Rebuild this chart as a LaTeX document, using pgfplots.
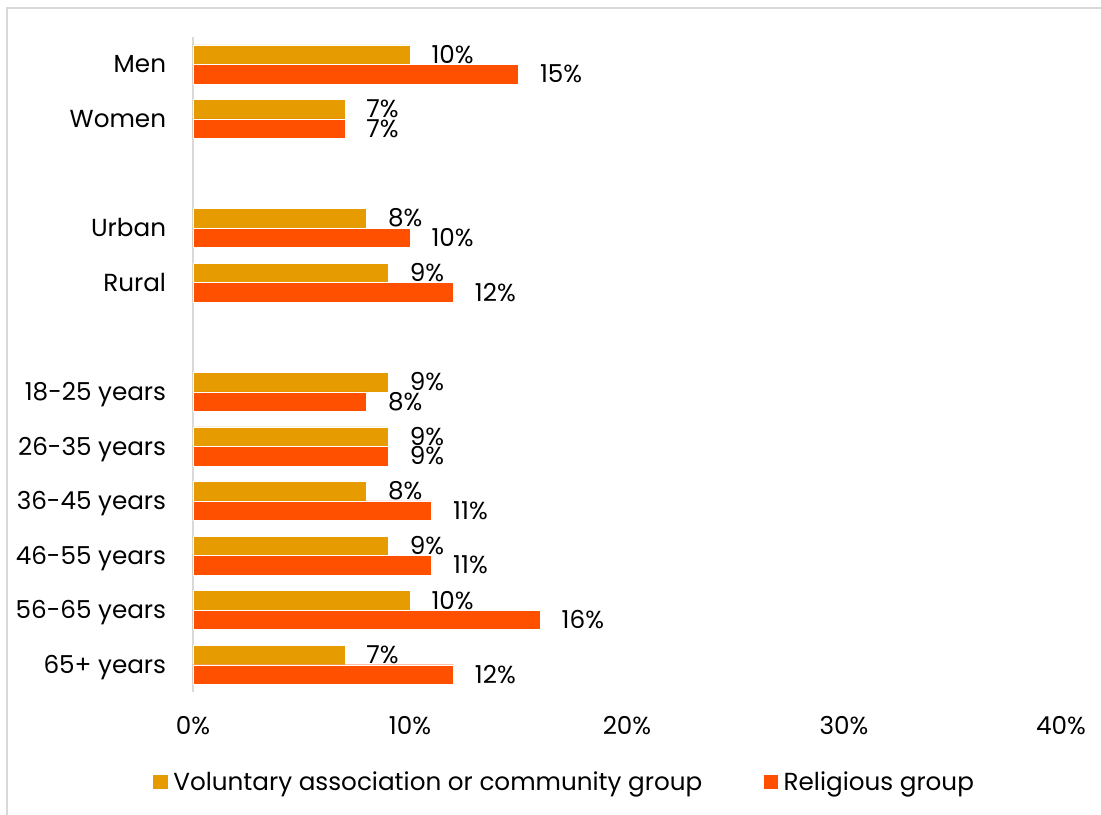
\documentclass[border=0pt]{standalone}
\usepackage{pgfplots}
\pgfplotsset{compat=1.18}
\usepackage{fontspec}
\setmainfont{Poppins}
\definecolor{volcol}{HTML}{E69C00}
\definecolor{relcol}{HTML}{FF5000}
\definecolor{frame}{HTML}{D9D9D9}
\begin{document}
\begin{tikzpicture}
% 1px = 0.75pt, page 1101x815 px
\path[use as bounding box] (0,0) rectangle (825.75pt,611.25pt);
\draw[frame, line width=1.5pt] (5.25pt,0) -- (5.25pt,605.6pt) -- (825.75pt,605.6pt);
\begin{axis}[
    at={(144.75pt,92.25pt)}, anchor=south west,
    scale only axis,
    width=651pt, height=491.25pt,
    xbar,
    bar width=14.6pt,
    xmin=0, xmax=40,
    ymin=-0.5, ymax=11.5,
    clip=false,
    font=\fontsize{18.5}{21}\selectfont,
    /pgf/number format/assume math mode=true,
    axis x line*=bottom,
    x axis line style={draw=none},
    axis y line*=left,
    y axis line style={draw=frame, line width=1.5pt},
    major tick length=0pt,
    xtick={0,10,20,30,40},
    xticklabel={\pgfmathprintnumber{\tick}\%},
    xticklabel style={anchor=base, inner sep=0pt, yshift=-32pt},
    ytick={0,1,2,3,4,5,7,8,10,11},
    yticklabels={65+ years,56-65 years,46-55 years,36-45 years,26-35 years,18-25 years,Rural,Urban,Women,Men},
    yticklabel style={anchor=base east, inner sep=0pt, xshift=-20pt, yshift=-6.5pt},
    nodes near coords={\pgfmathprintnumber{\pgfplotspointmeta}\%},
    point meta=explicit symbolic,
    every node near coord/.append style={anchor=base west, inner sep=0pt, xshift=16pt, yshift=-6.5pt, black},
    legend columns=2,
    legend style={draw=none, fill=none, at={(0.4286,-0.1374)}, anchor=center,
        /tikz/every odd column/.append style={column sep=2pt},
        /tikz/every even column/.append style={column sep=44pt},
        nodes={inner sep=2pt}},
    legend image code/.code={\fill[#1,draw=none] (0pt,-5.6pt) rectangle (11pt,5.6pt);},
]
\addplot[fill=volcol, draw=white, line width=0.3pt, bar shift=7.3pt] coordinates {
    (10,11) [10] (7,10) [7] (8,8) [8] (9,7) [9] (9,5) [9]
    (9,4) [9] (8,3) [8] (9,2) [9] (10,1) [10] (7,0) [7]
};
\addlegendentry{Voluntary association or community group}
\addplot[fill=relcol, draw=white, line width=0.3pt, bar shift=-7.3pt] coordinates {
    (15,11) [15] (7,10) [7] (10,8) [10] (12,7) [12] (8,5) [8]
    (9,4) [9] (11,3) [11] (11,2) [11] (16,1) [16] (12,0) [12]
};
\addlegendentry{Religious group}
\end{axis}
\end{tikzpicture}
\end{document}
